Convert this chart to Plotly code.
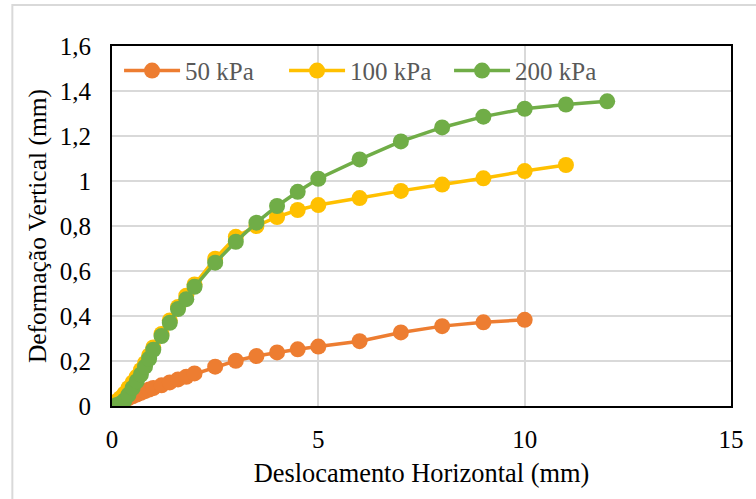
import plotly.graph_objects as go

# Data
x_50 = [0.1, 0.2, 0.3, 0.4, 0.5, 0.6, 0.7, 0.8, 0.9, 1.0, 1.2, 1.4, 1.6, 1.8, 2.0,
        2.5, 3.0, 3.5, 4.0, 4.5, 5.0, 6.0, 7.0, 8.0, 9.0, 10.0]
y_50 = [0.005, 0.015, 0.025, 0.035, 0.043, 0.051, 0.059, 0.066, 0.073, 0.08, 0.092, 0.105, 0.118, 0.13, 0.145,
        0.175, 0.201, 0.222, 0.238, 0.252, 0.264, 0.288, 0.327, 0.355, 0.372, 0.383]

x_100 = [0.1, 0.2, 0.3, 0.4, 0.5, 0.6, 0.7, 0.8, 0.9, 1.0, 1.2, 1.4, 1.6, 1.8, 2.0,
         2.5, 3.0, 3.5, 4.0, 4.5, 5.0, 6.0, 7.0, 8.0, 9.0, 10.0, 11.0]
y_100 = [0.02, 0.035, 0.055, 0.08, 0.105, 0.13, 0.16, 0.19, 0.225, 0.26, 0.32, 0.38, 0.44, 0.49, 0.54,
         0.655, 0.752, 0.8, 0.84, 0.871, 0.893, 0.924, 0.956, 0.984, 1.012, 1.044, 1.071]

x_200 = [0.1, 0.2, 0.3, 0.4, 0.5, 0.6, 0.7, 0.8, 0.9, 1.0, 1.2, 1.4, 1.6, 1.8, 2.0,
         2.5, 3.0, 3.5, 4.0, 4.5, 5.0, 6.0, 7.0, 8.0, 9.0, 10.0, 11.0, 12.0]
y_200 = [0.003, 0.01, 0.025, 0.05, 0.08, 0.11, 0.14, 0.175, 0.21, 0.25, 0.311, 0.37, 0.431, 0.475, 0.53,
         0.637, 0.73, 0.815, 0.889, 0.952, 1.01, 1.096, 1.176, 1.238, 1.286, 1.321, 1.34, 1.354]

series_names = ["50 kPa", "100 kPa", "200 kPa"]
series_colors = ["#ED7D31", "#FFC000", "#70AD47"]

y_tickvals = [0, 0.2, 0.4, 0.6, 0.8, 1.0, 1.2, 1.4, 1.6]
y_ticktext = ["0", "0,2", "0,4", "0,6", "0,8", "1", "1,2", "1,4", "1,6"]
x_tickvals = [0, 5, 10, 15]
x_ticktext = ["0", "5", "10", "15"]

FONT = "Liberation Serif"

fig = go.Figure()
for xs, ys, name, col in zip([x_50, x_100, x_200], [y_50, y_100, y_200], series_names, series_colors):
    fig.add_trace(go.Scatter(
        x=xs, y=ys, name=name, mode="lines+markers",
        line=dict(color=col, width=3.5),
        marker=dict(color=col, size=16),
    ))

fig.update_layout(
    width=756, height=499,
    margin=dict(l=112, r=17, t=46, b=93),
    paper_bgcolor="white", plot_bgcolor="white",
    font=dict(family=FONT, size=25, color="black"),
    showlegend=True,
    legend=dict(
        orientation="h", x=0.0114, y=0.995, xanchor="left", yanchor="top",
        font=dict(family=FONT, size=25, color="#595959"),
        bgcolor="rgba(0,0,0,0)", itemwidth=56, entrywidth=94,
    ),
    xaxis=dict(
        range=[0, 15], tickvals=x_tickvals, ticktext=x_ticktext,
        tickfont=dict(family=FONT, size=25, color="black"),
        showgrid=True, gridcolor="#D9D9D9", gridwidth=1.5,
        showline=True, linecolor="black", linewidth=2, mirror=True,
        zeroline=False, ticks="", ticklabelstandoff=10,
        title=dict(text="Deslocamento Horizontal (mm)", font=dict(family=FONT, size=26.4, color="black"), standoff=12),
    ),
    yaxis=dict(
        range=[0, 1.6], tickvals=y_tickvals, ticktext=y_ticktext,
        tickfont=dict(family=FONT, size=25, color="black"),
        showgrid=True, gridcolor="#D9D9D9", gridwidth=1.5,
        showline=True, linecolor="black", linewidth=2, mirror=True,
        zeroline=False, ticks="", ticklabelstandoff=14,
        title=dict(text="Deformação Vertical (mm)", font=dict(family=FONT, size=25.5, color="black"), standoff=6),
    ),
)

# light chart-area border (as in the reference)
fig.add_shape(type="rect", xref="paper", yref="paper",
              x0=-0.161, x1=1.2, y0=-0.5, y1=1.114,
              line=dict(color="#D9D9D9", width=2), fillcolor="rgba(0,0,0,0)", layer="below")

fig.write_html("out.html")
